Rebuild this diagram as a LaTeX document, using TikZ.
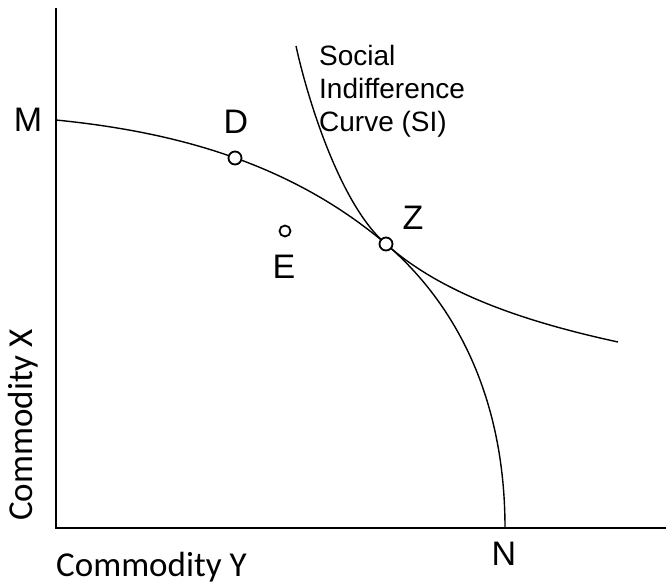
\documentclass[tikz,border=0pt]{standalone}
\usepackage{fontspec}
\setmainfont{Liberation Sans}
\newfontfamily\axisfont{Carlito}
\begin{document}
\begin{tikzpicture}[x=1pt,y=-1pt,
  axis/.style={line width=2pt},
  curve/.style={line width=1.4pt},
  pt/.style={circle,draw,fill=white,line width=1.8pt,inner sep=0pt,minimum size=13pt},
  lbl/.style={font=\fontsize{34}{40}\selectfont,inner sep=0pt},
  axlbl/.style={font=\axisfont\fontsize{35}{42}\selectfont,inner sep=0pt}]
\useasboundingbox (0,0) rectangle (666,584);
\coordinate (O) at (56,528);
\coordinate (top) at (56,8);
\coordinate (right) at (666,528);
\coordinate (Mp) at (56,120);
\coordinate (Np) at (505,528);
\coordinate (Dp) at (235,158);
\coordinate (Zp) at (386,244);
\coordinate (Ep) at (285,231);
\coordinate (SIa) at (296,46);
\coordinate (SIb) at (618,342);
\draw[axis] (top) -- (O) -- (right);
\draw[curve] (Mp) .. controls (166,131) and (286,159) .. (Zp) .. controls (456,304) and (505,398) .. (Np);
\draw[curve] (SIa) .. controls (308,101) and (341,206) .. (Zp) .. controls (442,294) and (526,322) .. (SIb);
\node[pt] (D) at (Dp) {};
\node[pt] (Z) at (Zp) {};
\node[pt,minimum size=11pt] (E) at (Ep) {};
\node[lbl] (M) at (28,120) {M};
\node[lbl] (Dl) at (236,122) {D};
\node[lbl] (El) at (284,267) {E};
\node[lbl] (Zl) at (413,218) {Z};
\node[lbl] (N) at (504,554) {N};
\node[font=\fontsize{28}{33}\selectfont,align=left,anchor=north west,inner sep=0pt] (SI) at (319,45) {Social\\Indifference\\Curve (SI)};
\node[axlbl,anchor=base west] (cy) at (56,576) {Commodity Y};
\node[axlbl,rotate=90,anchor=base west] (cx) at (32,521) {Commodity X};
\end{tikzpicture}
\end{document}
